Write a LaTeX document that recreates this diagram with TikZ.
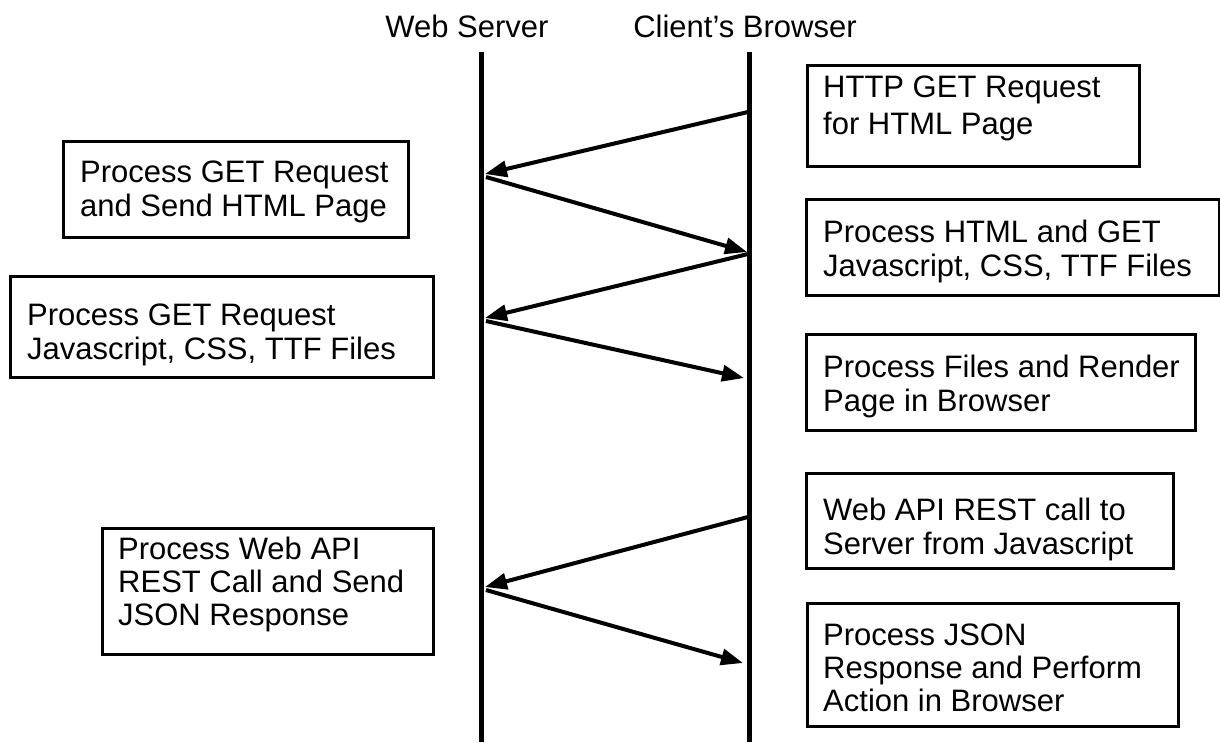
\documentclass[tikz,border=0pt]{standalone}
\usepackage{fontspec}
\setmainfont{Liberation Sans}
\usetikzlibrary{arrows.meta}
\begin{document}
\begin{tikzpicture}[x=1pt,y=-1pt,
  msgbox/.style={draw=black,line width=3pt,inner sep=0pt,anchor=north west},
  msgtext/.style={inner sep=0pt,align=left,anchor=base west,font=\fontsize{31}{34}\selectfont},
  lifeline/.style={line width=5pt},
  msg/.style={line width=4pt,-{Triangle[length=22pt,width=16pt]}},
  head/.style={anchor=base,font=\fontsize{31}{34}\selectfont}]
\useasboundingbox (0,0) rectangle (1220,742);
% headers
\node[head] (hs) at (467,37) {Web Server};
\node[head] (hc) at (745,37) {Client’s Browser};
% lifelines
\coordinate (st) at (481,52);
\coordinate (sb) at (481,742);
\coordinate (ct) at (749.5,52);
\coordinate (cb) at (749.5,742);
\draw[lifeline] (st) -- (sb);
\draw[lifeline] (ct) -- (cb);
% boxes
\node[msgbox,minimum width=332pt,minimum height=101pt] (A) at (806,64) {};
\node[msgbox,minimum width=345pt,minimum height=96pt] (B) at (62,140) {};
\node[msgbox,minimum width=413pt,minimum height=96pt] (C) at (805,198) {};
\node[msgbox,minimum width=423pt,minimum height=101pt] (D) at (9,275) {};
\node[msgbox,minimum width=389pt,minimum height=96pt] (E) at (805,333) {};
\node[msgbox,minimum width=367pt,minimum height=95pt] (F) at (805,472) {};
\node[msgbox,minimum width=331pt,minimum height=126pt] (G) at (101,527) {};
\node[msgbox,minimum width=371pt,minimum height=123pt] (H) at (806,602) {};
% box texts (anchored at the baseline of the last line)
\node[msgtext,font=\fontsize{31}{37}\selectfont] (At) at (823,134) {HTTP GET Request\\for HTML Page};
\node[msgtext] (Bt) at (80,216) {Process GET Request\\and Send HTML Page};
\node[msgtext] (Ct) at (823,276) {Process HTML and GET\\Javascript, CSS, TTF Files};
\node[msgtext] (Dt) at (27,359) {Process GET Request\\Javascript, CSS, TTF Files};
\node[msgtext] (Et) at (823,411) {Process Files and Render\\Page in Browser};
\node[msgtext] (Ft) at (823,554) {Web API REST call to\\Server from Javascript};
\node[msgtext,font=\fontsize{31}{33}\selectfont] (Gt) at (118,625) {Process Web API\\REST Call and Send\\JSON Response};
\node[msgtext,font=\fontsize{31}{33}\selectfont] (Ht) at (823,711) {Process JSON\\Response and Perform\\Action in Browser};
% message end points
\coordinate (c1) at (748,112);
\coordinate (s1) at (485,174);
\coordinate (s2) at (486,177);
\coordinate (c2) at (747,252);
\coordinate (c3) at (748,254);
\coordinate (s3) at (485,318);
\coordinate (s4) at (486,321);
\coordinate (c4) at (744,378);
\coordinate (c5) at (748,517);
\coordinate (s5) at (485,587);
\coordinate (s6) at (486,590);
\coordinate (c6) at (743,663);
\draw[msg] (c1) -- (s1);
\draw[msg] (s2) -- (c2);
\draw[msg] (c3) -- (s3);
\draw[msg] (s4) -- (c4);
\draw[msg] (c5) -- (s5);
\draw[msg] (s6) -- (c6);
\end{tikzpicture}
\end{document}
